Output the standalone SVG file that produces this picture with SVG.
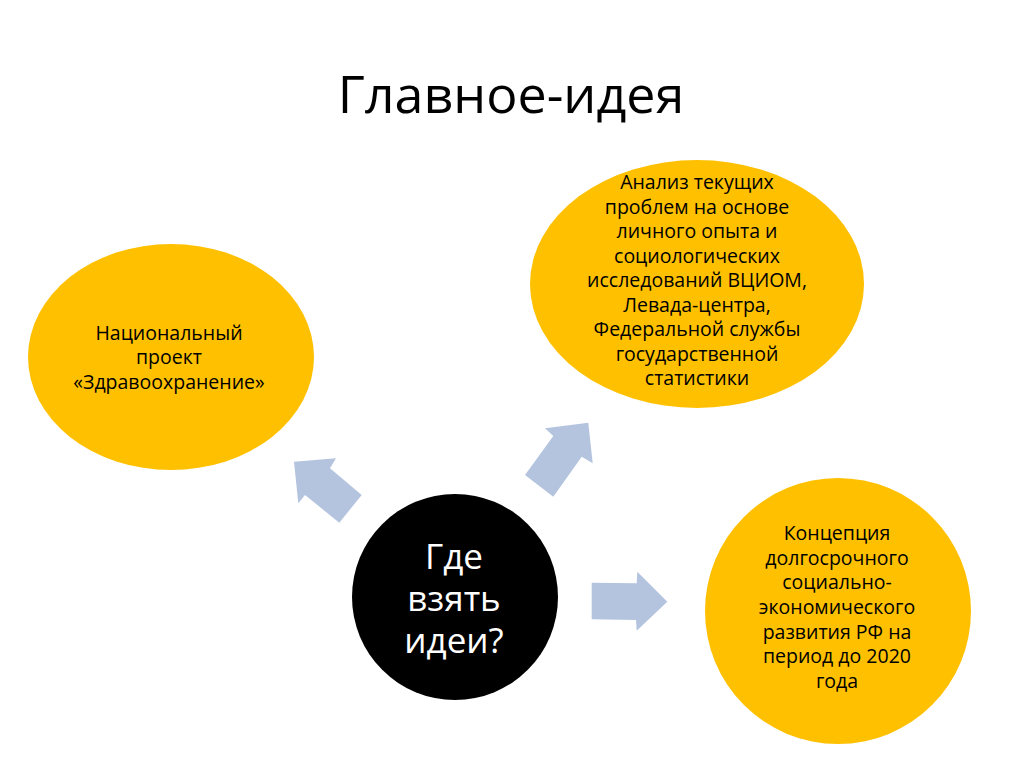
<svg xmlns="http://www.w3.org/2000/svg" width="1024" height="767" viewBox="0 0 1024 767">
<style>
.bg{fill:#ffffff}
.yel{fill:#FFC000}
.blk{fill:#000000}
.arr{fill:#B4C4DF}
.t{font-family:"Open Sans","Liberation Sans",sans-serif;text-anchor:middle}
.title{font-size:52px;fill:#000}
.lbl{font-size:19.5px;fill:#000}
.big{font-size:35px;fill:#fff}
</style>
<rect class="bg" x="0" y="0" width="1024" height="767"/>
<text class="t title" x="511" y="113">Главное-идея</text>
<g id="connectors">
<polygon class="arr" points="294,461.7 336,458.3 330,468.3 361.7,495 339.3,522.7 305,495 298.3,503.3"/>
<polygon class="arr" points="588.3,422.7 545,428.3 553.3,436 525,475 553.3,496.7 581.7,456.7 592.7,463.3"/>
<polygon class="arr" points="591.7,582.7 636.7,583.3 637.3,571.7 667.3,601.7 636.7,630.7 636,620 591.7,619.3"/>
</g>
<g id="node-left">
<ellipse class="yel" cx="171" cy="357" rx="143" ry="113"/>
<text class="t lbl" x="169" y="339.5">Национальный</text>
<text class="t lbl" x="169" y="364">проект</text>
<text class="t lbl" x="169" y="388.7">«Здравоохранение»</text>
</g>
<g id="node-topright">
<ellipse class="yel" cx="697" cy="284" rx="167" ry="124"/>
<text class="t lbl" x="697" y="189">Анализ текущих</text>
<text class="t lbl" x="697" y="213.5">проблем на основе</text>
<text class="t lbl" x="697" y="238">личного опыта и</text>
<text class="t lbl" x="697" y="262.5">социологических</text>
<text class="t lbl" x="697" y="287">исследований ВЦИОМ,</text>
<text class="t lbl" x="697" y="311.5">Левада-центра,</text>
<text class="t lbl" x="697" y="336">Федеральной службы</text>
<text class="t lbl" x="697" y="360.5">государственной</text>
<text class="t lbl" x="697" y="385">статистики</text>
</g>
<g id="node-bottomright">
<circle class="yel" cx="838" cy="611" r="133"/>
<text class="t lbl" x="837" y="540">Концепция</text>
<text class="t lbl" x="837" y="564.7">долгосрочного</text>
<text class="t lbl" x="837" y="589.4">социально-</text>
<text class="t lbl" x="837" y="614">экономического</text>
<text class="t lbl" x="837" y="638.7">развития РФ на</text>
<text class="t lbl" x="837" y="663.4">период до 2020</text>
<text class="t lbl" x="837" y="688">года</text>
</g>
<g id="node-center">
<circle class="blk" cx="455" cy="597" r="103"/>
<text class="t big" x="454" y="569">Где</text>
<text class="t big" x="454" y="611">взять</text>
<text class="t big" x="454" y="653">идеи?</text>
</g>
</svg>
